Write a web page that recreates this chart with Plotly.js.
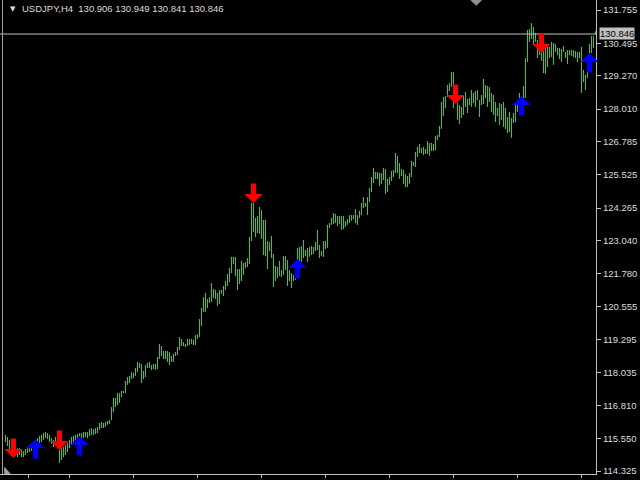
<!DOCTYPE html>
<html>
<head>
<meta charset="utf-8">
<script src="https://cdn.plot.ly/plotly-3.0.1.min.js"></script>
<style>html,body{margin:0;padding:0;background:#000;}#chart{width:640px;height:480px;}</style>
</head>
<body>
<div id="chart"></div>
<script>
// USDJPY H4 bars (high / low), one value per bar, oldest first
const highs = [
115.69,115.61,115.50,115.42,115.31,115.23,115.19,115.19,115.12,115.08,
115.16,115.23,115.31,115.38,115.42,115.50,115.57,115.65,115.69,115.76,
115.80,115.76,115.69,115.57,115.50,115.61,115.50,115.12,115.19,115.23,
115.31,115.38,115.50,115.61,115.65,115.69,115.72,115.76,115.76,115.80,
115.80,115.80,115.91,115.95,115.91,115.95,115.99,116.14,116.18,116.14,
116.18,116.22,116.25,116.74,117.09,117.09,117.27,117.27,
117.35,117.35,117.73,117.88,117.92,118.07,118.03,118.22,118.45,118.41,
118.37,118.11,118.33,118.41,118.45,118.33,118.37,118.37,118.64,119.13,
119.05,118.86,118.86,118.86,118.82,118.67,118.75,118.82,119.01,119.39,
119.32,119.20,119.13,119.32,119.32,119.32,119.28,119.47,119.50,120.07,
120.49,120.90,121.06,120.83,120.90,121.43,121.21,121.17,121.06,121.17,
121.17,121.32,121.51,121.77,122.00,122.42,122.42,122.42,121.96,121.96,
122.27,122.19,122.23,122.38,123.17,124.46,124.50,123.89,123.97,124.31,
124.19,123.82,123.82,123.02,122.98,123.21,122.53,122.08,122.04,122.27,
121.92,122.45,122.45,122.30,121.92,121.81,121.74,121.85,122.76,122.79,
122.83,123.06,122.68,122.76,122.79,122.83,122.79,122.98,123.44,122.87,
122.64,123.02,123.02,123.63,123.70,123.89,124.08,124.04,123.97,123.97,
123.97,123.97,123.78,123.85,124.00,124.00,124.00,124.23,124.00,124.16,
124.46,124.68,124.46,124.68,125.02,125.44,125.78,125.63,125.63,125.59,
125.59,125.78,125.74,125.37,125.44,125.67,125.71,126.35,126.24,125.97,
125.74,125.71,125.55,125.48,125.59,126.05,126.01,126.39,126.58,126.69,
126.54,126.58,126.50,126.80,126.73,126.73,126.69,126.99,127.03,127.37,
128.28,128.47,128.50,128.92,128.99,129.41,129.41,128.88,128.24,128.16,
128.09,128.50,128.66,128.39,128.43,128.73,128.62,128.69,128.73,128.35,
128.54,129.15,128.92,128.88,128.84,128.62,128.54,128.28,128.05,128.24,
128.20,128.28,128.05,127.71,127.90,127.67,127.86,128.16,128.28,128.62,
128.47,128.88,129.94,131.00,131.04,131.26,131.11,130.89,130.62,130.36,
130.32,130.51,130.32,130.36,130.36,130.55,130.51,130.47,130.32,130.32,
130.28,130.39,130.17,130.24,130.24,130.24,130.24,130.20,130.17,130.17,
130.36,129.49,129.30,129.83,130.47,130.77,130.77,130.949
];
const lows = [
115.42,115.27,115.12,115.04,114.93,114.89,114.85,114.93,114.85,114.85,
114.93,115.00,115.04,115.08,115.16,115.23,115.31,115.38,115.42,115.50,
115.57,115.53,115.42,115.35,115.23,115.31,115.19,114.63,114.74,114.85,
114.93,115.04,115.19,115.31,115.38,115.42,115.46,115.50,115.53,115.57,
115.61,115.57,115.65,115.69,115.69,115.72,115.76,115.88,115.95,115.95,
115.99,116.07,116.10,116.25,116.56,116.74,116.82,116.90,
117.12,117.27,117.27,117.58,117.65,117.80,117.84,117.92,118.07,118.22,
117.65,117.80,117.88,118.22,118.22,118.14,118.18,118.14,118.18,118.56,
118.67,118.56,118.56,118.45,118.33,118.45,118.45,118.67,118.71,118.90,
119.05,119.05,119.01,119.05,119.09,119.13,119.09,119.09,119.32,119.39,
119.81,120.34,120.34,120.49,120.68,120.72,120.87,120.83,120.56,120.64,
121.02,120.94,121.17,121.32,121.47,121.81,122.15,121.70,121.17,121.40,
121.51,121.74,122.00,122.04,122.15,123.02,123.36,123.17,123.32,123.29,
123.10,122.49,122.45,121.96,122.64,122.38,121.28,121.51,121.62,121.70,
121.66,121.74,121.92,121.32,121.51,121.24,121.51,121.55,122.12,122.15,
122.23,122.38,122.45,122.23,122.42,122.49,122.53,122.64,122.68,122.38,
122.45,122.42,122.72,122.76,123.51,123.63,123.66,123.70,123.59,123.66,
123.44,123.47,123.55,123.63,123.70,123.78,123.85,123.70,123.63,123.89,
124.00,124.27,124.31,124.00,124.50,124.87,125.21,125.37,125.37,125.10,
125.18,125.33,124.80,124.87,125.14,125.29,125.44,125.59,125.59,125.37,
125.48,125.18,125.06,125.06,125.18,125.44,125.86,125.82,126.20,126.35,
126.35,126.27,126.31,126.31,126.24,126.42,126.42,126.46,126.84,126.95,
127.26,127.75,128.05,128.47,128.69,128.84,128.05,128.24,127.60,127.45,
127.67,127.79,128.09,127.86,128.16,128.09,128.24,128.09,128.35,127.71,
128.16,128.20,128.43,128.09,128.28,127.90,127.79,127.52,127.75,127.41,
127.60,127.33,127.26,127.10,127.14,126.92,127.48,127.52,127.90,128.05,
128.16,128.28,128.43,129.79,130.55,130.66,130.43,130.55,129.94,130.05,
129.83,129.37,129.34,129.60,129.94,129.98,129.68,130.17,130.05,129.90,
129.79,130.17,129.94,129.71,130.05,130.02,129.98,129.94,129.79,129.94,
128.62,129.03,128.73,129.18,129.56,130.13,130.32,130.841
];

// signal arrows: bar index and the price the arrow tip points at
const sellIdx = [4, 27, 124, 225, 268];
const sellTip = [114.82, 115.12, 124.46, 128.20, 130.13];
const buyIdx = [15, 37, 146, 258, 292];
const buyTip = [115.53, 115.65, 122.34, 128.50, 130.13];

// axis ticks
const priceTicks = [131.755,130.495,129.270,128.010,126.785,125.525,124.265,123.040,121.780,120.555,119.295,118.035,116.810,115.550,114.325];
const priceTickText = ["131.755","130.495","129.270","128.010","126.785","125.525","124.265","123.040","121.780","120.555","119.295","118.035","116.810","115.550","114.325"];
const timeTicks = [11.5, 32, 64, 96, 128, 160, 192, 224, 256, 288];

const symbol = "USDJPY,H4";
const ohlcLast = ["130.906","130.949","130.841","130.846"];
const lastPrice = 130.846;

const bx = [], by = [];
for (let i = 0; i < highs.length; i++) {
  bx.push(i, i, null);
  by.push(lows[i], highs[i], null);
}

const traces = [
  {type:'scatter', mode:'lines', x:bx, y:by, connectgaps:false,
   line:{color:'#32cd32', width:1}, hoverinfo:'skip'}
];

const grey = '#c0c0c0';
function signal(idx, price, color, dir) {
  return {x:idx, y:price, xref:'x', yref:'y', text:'', showarrow:true,
          ax:0, ay:dir * 21, axref:'pixel', ayref:'pixel',
          arrowhead:1, arrowsize:0.6, arrowwidth:5, arrowcolor:color, standoff:0,
          font:{size:1}};
}
const arrowAnns = [];
sellIdx.forEach((d, k) => arrowAnns.push(signal(d, sellTip[k], '#ff0000', -1)));
buyIdx.forEach((d, k) => arrowAnns.push(signal(d, buyTip[k], '#0000ff', 1)));

const layout = {
  width:640, height:480,
  margin:{l:0, r:44, t:0, b:6, pad:0},
  paper_bgcolor:'#000000', plot_bgcolor:'#000000',
  showlegend:false,
  xaxis:{range:[-2.75, 295.25], showgrid:false, zeroline:false, showline:true, linecolor:grey, linewidth:1,
         ticks:'outside', ticklen:3, tickcolor:grey, tickvals:timeTicks, showticklabels:false, fixedrange:true},
  yaxis:{side:'right', range:[114.212, 132.133], showgrid:false, zeroline:false, showline:true, linecolor:grey, linewidth:1,
         ticks:'outside', ticklen:4, tickcolor:grey, tickvals:priceTicks, ticktext:priceTickText,
         tickfont:{family:'Liberation Sans', size:9.5, color:'#dcdcdc'}, fixedrange:true},
  shapes:[
    {type:'line', xref:'paper', yref:'y', x0:0, x1:1, y0:lastPrice, y1:lastPrice, line:{color:grey, width:1}},
    {type:'line', xref:'paper', yref:'paper', x0:2.5/596, x1:2.5/596, y0:0, y1:1, line:{color:'#a0a0a0', width:1}},
    {type:'path', xref:'paper', yref:'paper', path:'M 0.789,1 L 0.809,1 L 0.799,0.988 Z', fillcolor:'#909090', line:{width:0}},
    {type:'path', xref:'paper', yref:'paper', path:'M 0.007,0.016 L 0.007,0 L 0.018,0 Z', fillcolor:'#a0a0a0', line:{width:0}}
  ],
  annotations:[
    {xref:'paper', yref:'paper', x:8/596, y:1, yshift:-3, xanchor:'left', yanchor:'top', showarrow:false,
     text:'▼', font:{family:'DejaVu Sans', size:7, color:'#dcdcdc'}},
    {xref:'paper', yref:'paper', x:20/596, y:1, yshift:-1, xanchor:'left', yanchor:'top', showarrow:false,
     text:symbol + '  ' + ohlcLast.join(' '), font:{family:'Liberation Sans', size:9.5, color:'#dcdcdc'}},
    {xref:'paper', yref:'y', x:1, y:lastPrice, xanchor:'left', yanchor:'middle', xshift:3, yshift:1, showarrow:false,
     text:lastPrice.toFixed(3), bgcolor:grey, borderpad:0, font:{family:'Liberation Sans', size:9.5, color:'#000000'}}
  ].concat(arrowAnns)
};

Plotly.newPlot('chart', traces, layout, {displayModeBar:false, staticPlot:true});
</script>
</body>
</html>
